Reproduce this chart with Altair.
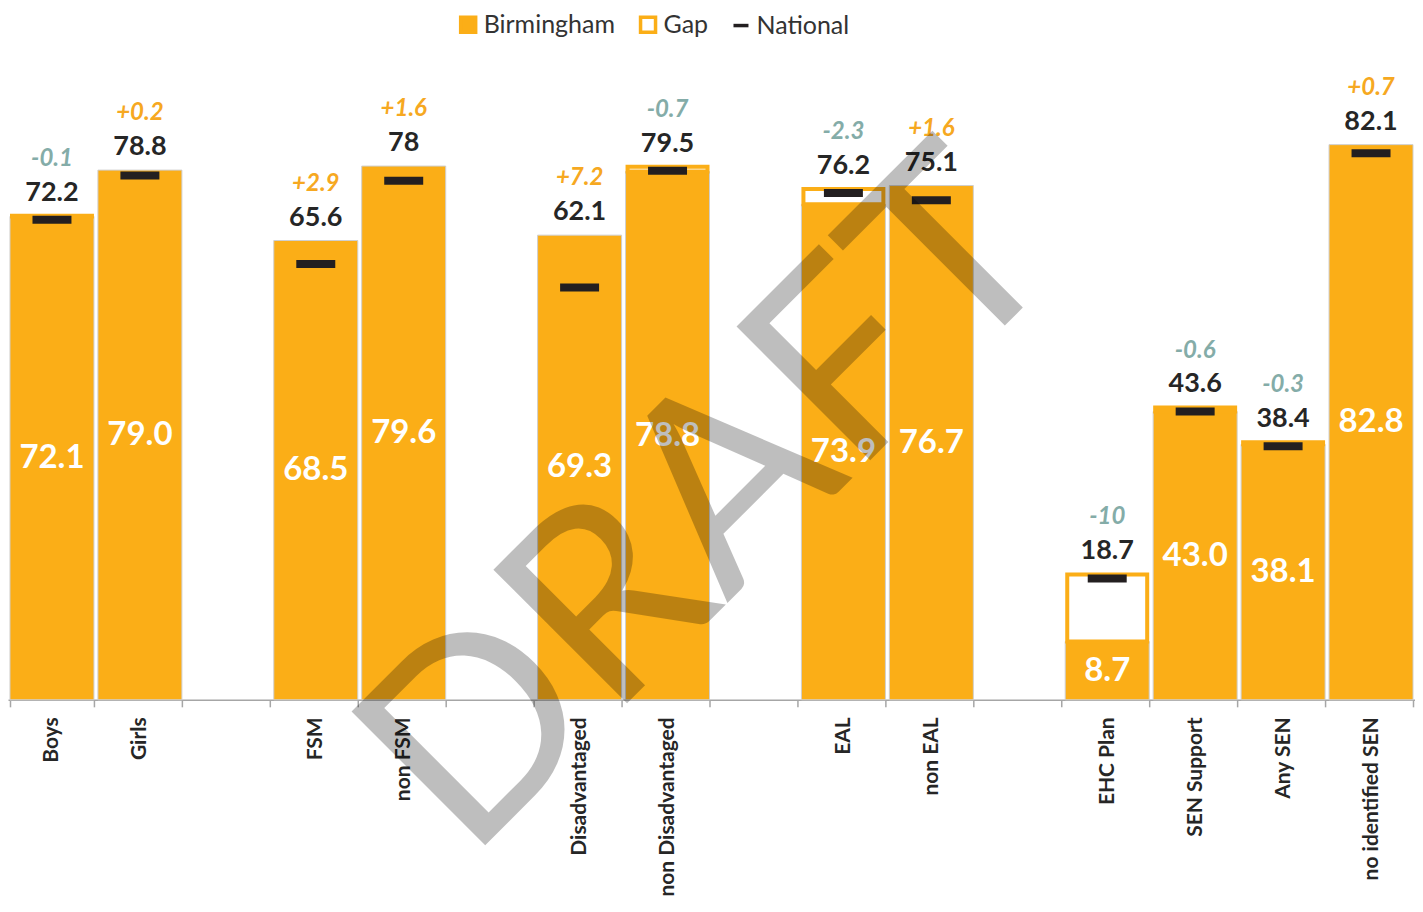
import altair as alt
import pandas as pd

# ---------------- data ----------------
categories = ["Boys", "Girls", " ", "FSM", "non FSM", "  ",
              "Disadvantaged", "non Disadvantaged", "   ", "EAL", "non EAL", "    ",
              "EHC Plan", "SEN Support", "Any SEN", "no identified SEN"]
groups = ["Boys", "Girls", "FSM", "non FSM", "Disadvantaged", "non Disadvantaged",
          "EAL", "non EAL", "EHC Plan", "SEN Support", "Any SEN", "no identified SEN"]
birmingham = [72.1, 79.0, 68.5, 79.6, 69.3, 78.8, 73.9, 76.7, 8.7, 43.0, 38.1, 82.8]
national = [72.2, 78.8, 65.6, 78.0, 62.1, 79.5, 76.2, 75.1, 18.7, 43.6, 38.4, 82.1]
series = ["Birmingham", "Gap", "National"]

gap = [round(b - n, 1) for b, n in zip(birmingham, national)]
df = pd.DataFrame({
    "group": groups,
    "B": birmingham,
    "N": national,
    "b_label": [f"{b:.1f}" for b in birmingham],
    "n_label": [f"{n:g}" for n in national],
    "gap_label": [f"{g:+g}" for g in gap],
    "sign": ["pos" if g > 0 else "neg" for g in gap],
})
leg_df = pd.DataFrame({"series": series})

ORANGE = "#FBAE17"
ORANGE_TXT = "#F6A821"
TEAL = "#84ACA8"
DARK = "#262626"
FONT = "Lato"

x_enc = alt.X(
    "group:N",
    scale=alt.Scale(domain=categories, paddingInner=0.045, paddingOuter=0.0225),
    axis=alt.Axis(title=None, labelAngle=-90, tickBand="extent", tickSize=7,
                  tickColor="#A6A6A6", domainColor="#A6A6A6", domainWidth=1.5,
                  tickWidth=1.5, labelPadding=10, labelFontSize=21, labelLimit=0,
                  labelFontWeight="bold", labelColor=DARK, labelFont=FONT),
)
y_scale = alt.Scale(domain=[0, 100], nice=False, zero=True)

base = alt.Chart(df).encode(x=x_enc)

bars = base.mark_bar(color=ORANGE, stroke="#CFCFCF", strokeWidth=1).encode(
    y=alt.Y("B:Q", scale=y_scale, axis=None)
)

gap_bars = base.transform_filter("datum.N > datum.B").mark_bar(
    fill="white", stroke=ORANGE, strokeWidth=4, width=alt.RelativeBandSize(0.952)
).encode(y=alt.Y("B:Q"), y2="N:Q")

white_labels = base.transform_calculate(mid="datum.B / 2").mark_text(
    color="white", fontSize=33, fontWeight="bold", font=FONT, baseline="middle"
).encode(y="mid:Q", text="b_label:N")

nat_ticks = base.mark_tick(color="#231F20", thickness=8, size=39, yOffset=4, opacity=1).encode(
    y="N:Q"
)

top_labels = base.transform_calculate(top="max(datum.B, datum.N)").mark_text(
    color=DARK, fontSize=27, fontWeight="bold", font=FONT, baseline="alphabetic", dy=-15
).encode(y="top:Q", text="n_label:N")

gap_labels = base.transform_calculate(top="max(datum.B, datum.N)").mark_text(
    fontSize=24, fontWeight="bold", fontStyle="italic", font=FONT,
    baseline="alphabetic", dy=-50
).encode(
    y="top:Q", text="gap_label:N",
    color=alt.Color("sign:N", scale=alt.Scale(domain=["pos", "neg"], range=[ORANGE_TXT, TEAL]),
                    legend=None),
)

leg_props = dict(title=None, orient="none", direction="horizontal", legendX=448, legendY=-17,
                 symbolSize=225, symbolStrokeWidth=3.5, symbolOpacity=1, labelFontSize=25,
                 labelFont=FONT, labelColor="#333333", labelOffset=3, columnPadding=18,
                 padding=0)
legend_layer = alt.Chart(leg_df).mark_point(filled=True, opacity=0).encode(
    x=alt.value(0), y=alt.value(0),
    shape=alt.Shape("series:N", scale=alt.Scale(domain=series, range=["square", "square", "stroke"]),
                    legend=alt.Legend(**leg_props)),
    fill=alt.Fill("series:N", scale=alt.Scale(domain=series, range=[ORANGE, "white", "#231F20"]),
                  legend=alt.Legend(**leg_props)),
    stroke=alt.Stroke("series:N", scale=alt.Scale(domain=series, range=[ORANGE, ORANGE, "#231F20"]),
                      legend=alt.Legend(**leg_props)),
)

watermark = alt.Chart(pd.DataFrame({"t": ["DRAFT"]})).mark_text(
    font=FONT, fontSize=264, angle=315, align="center", baseline="alphabetic",
    color="#000000", opacity=0.25
).encode(x=alt.value(761), y=alt.value(533), text="t:N")

chart = alt.layer(
    bars, gap_bars, nat_ticks, white_labels, top_labels, gap_labels, legend_layer, watermark
).resolve_scale(color="independent").properties(
    width=1408, height=671,
    autosize=alt.AutoSizeParams(type="none"),
    padding={"left": 0, "top": 21, "right": 0, "bottom": 196},
).configure_view(stroke=None)

chart.save("out.html", embed_options={"renderer": "svg", "actions": False})
